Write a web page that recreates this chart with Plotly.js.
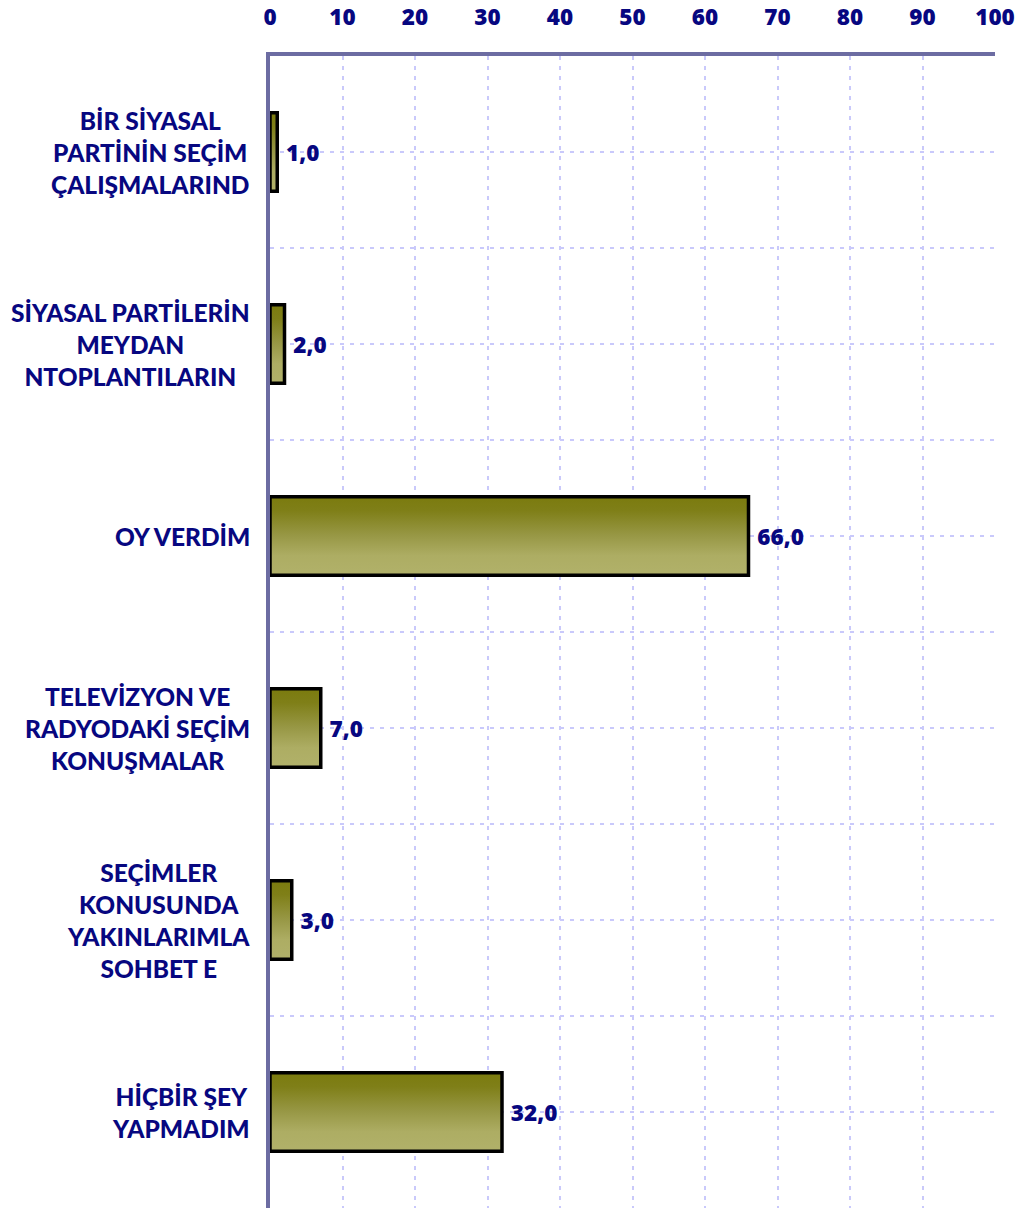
<!DOCTYPE html>
<html>
<head>
<meta charset="utf-8">
<script src="https://cdn.plot.ly/plotly-3.0.1.min.js"></script>
<style>
  html, body { margin: 0; padding: 0; background: #ffffff; }
  #chart { width: 1021px; height: 1209px; }
</style>
</head>
<body>
<div id="chart"></div>
<script>
// ---- data ----
const categoryLabels = [
  "BİR SİYASAL<br>PARTİNİN SEÇİM<br>ÇALIŞMALARIND",
  "SİYASAL PARTİLERİN<br>MEYDAN<br>NTOPLANTILARIN",
  "OY VERDİM",
  "TELEVİZYON VE<br>RADYODAKİ SEÇİM<br>KONUŞMALAR",
  "SEÇİMLER<br>KONUSUNDA<br>YAKINLARIMLA<br>SOHBET E",
  "HİÇBİR ŞEY<br>YAPMADIM"
];
const percentValues = [1.0, 2.0, 66.0, 7.0, 3.0, 32.0];
const xTickValues = [0, 10, 20, 30, 40, 50, 60, 70, 80, 90, 100];

// ---- chart ----
const NAVY = '#070780';
const FONT = 'Lato, "Open Sans", sans-serif';
const NUMFONT = '"Open Sans", Lato, sans-serif';
const positions = categoryLabels.map((_, i) => i);

const trace = {
  type: 'bar',
  orientation: 'h',
  x: percentValues,
  y: positions,
  width: 0.41,
  marker: { color: '#97973f', line: { color: '#000000', width: 3.5 } },
  texttemplate: ' %{x:.1f}',
  textposition: 'outside',
  cliponaxis: false,
  textfont: { family: NUMFONT, size: 22.5, color: NAVY, weight: 800 },
  hoverinfo: 'skip'
};

const annotations = categoryLabels.map((lab, i) => ({
  xref: 'paper', yref: 'y',
  x: 0, y: i,
  xanchor: 'right', yanchor: 'middle',
  xshift: -18,
  align: 'center',
  showarrow: false,
  text: lab,
  font: { family: FONT, size: 24.5, color: NAVY, weight: 900 }
}));

const layout = {
  width: 1021,
  height: 1209,
  margin: { l: 270, r: 26, t: 56, b: 1, pad: 0 },
  paper_bgcolor: '#ffffff',
  plot_bgcolor: '#ffffff',
  showlegend: false,
  separators: ',.',
  xaxis: {
    side: 'top',
    range: [0, 100],
    tickvals: xTickValues,
    ticktext: xTickValues.map(String),
    ticks: 'outside',
    ticklen: 18,
    tickcolor: 'rgba(0,0,0,0)',
    tickfont: { family: NUMFONT, size: 22.5, color: NAVY, weight: 800 },
    showline: true,
    linecolor: '#6c6ca2',
    linewidth: 4,
    showgrid: true,
    gridcolor: '#c9c9fb',
    gridwidth: 2,
    griddash: '4px,6px',
    zeroline: false,
    fixedrange: true
  },
  yaxis: {
    range: [categoryLabels.length - 0.5, -0.5],
    tick0: 0,
    dtick: 0.5,
    showticklabels: false,
    ticks: '',
    showline: true,
    linecolor: '#6c6ca2',
    linewidth: 4,
    showgrid: true,
    gridcolor: '#c9c9fb',
    gridwidth: 2,
    griddash: '4px,6px',
    zeroline: false,
    fixedrange: true
  },
  annotations: annotations,
  bargap: 0
};

Plotly.newPlot('chart', [trace], layout, { staticPlot: true, displayModeBar: false }).then(() => {
  const svgNS = 'http://www.w3.org/2000/svg';
  const defs = document.querySelector('#chart .main-svg defs');
  const grad = document.createElementNS(svgNS, 'linearGradient');
  grad.setAttribute('id', 'oliveGrad');
  grad.setAttribute('x1', '0'); grad.setAttribute('y1', '0');
  grad.setAttribute('x2', '0'); grad.setAttribute('y2', '1');
  const stops = [[0, '#7b7b0e'], [0.18, '#7f7f18'], [0.5, '#989846'], [0.75, '#adad63'], [1, '#b1b16a']];
  stops.forEach(([o, c]) => {
    const s = document.createElementNS(svgNS, 'stop');
    s.setAttribute('offset', o);
    s.setAttribute('stop-color', c);
    grad.appendChild(s);
  });
  defs.appendChild(grad);
  document.querySelectorAll('#chart .bars .point path').forEach(p => {
    p.style.fill = 'url(#oliveGrad)';
  });
});
</script>
</body>
</html>
